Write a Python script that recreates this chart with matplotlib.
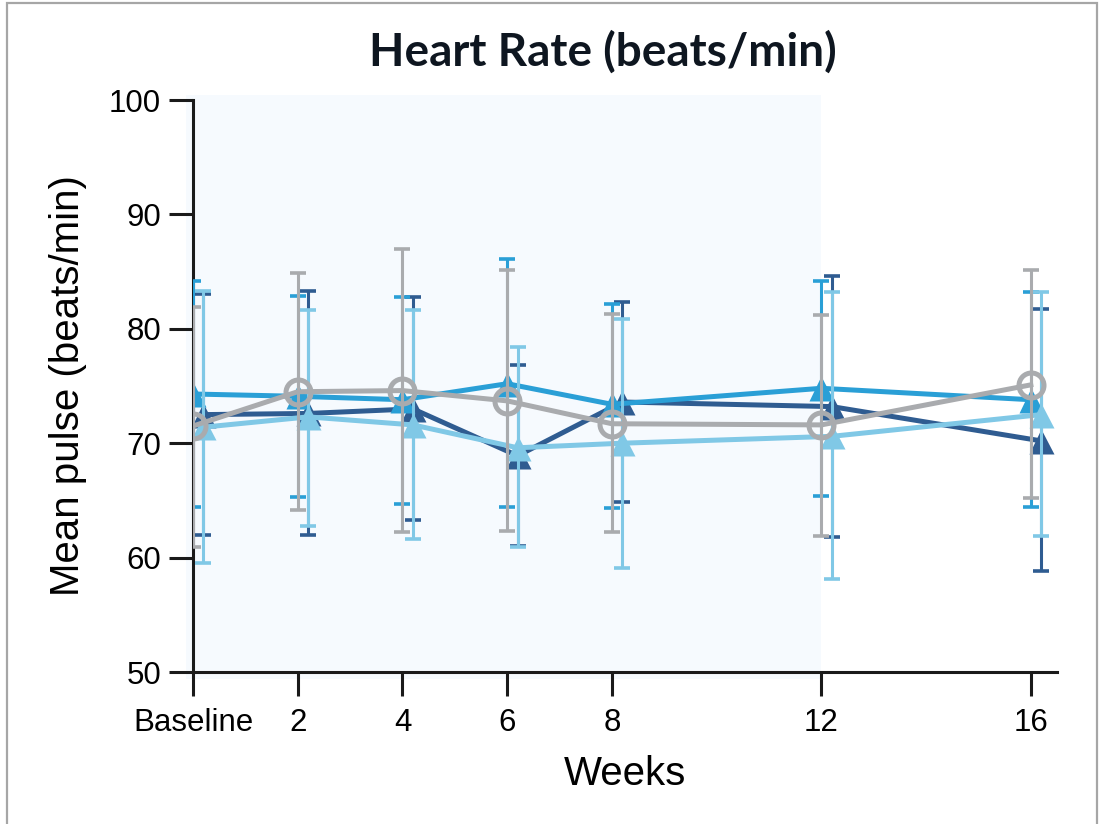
import matplotlib
matplotlib.use("Agg")
import matplotlib.pyplot as plt
from matplotlib.patches import Rectangle

weeks = [0, 2, 4, 6, 8, 12, 16]
tick_labels = ["Baseline", "2", "4", "6", "8", "12", "16"]

# mean pulse and error bar ends per group
dark_mean = [72.5, 72.6, 73.0, 68.9, 73.6, 73.2, 70.2]
dark_hi = [83.0, 83.3, 82.8, 76.8, 82.3, 84.6, 81.7]
dark_lo = [62.0, 62.0, 63.3, 61.0, 64.9, 61.8, 58.8]

mid_mean = [74.3, 74.1, 73.8, 75.2, 73.4, 74.8, 73.8]
mid_hi = [84.2, 82.9, 82.8, 86.1, 82.2, 84.2, 83.2]
mid_lo = [64.4, 65.3, 64.7, 64.4, 64.3, 65.4, 64.4]

light_mean = [71.4, 72.3, 71.6, 69.6, 70.0, 70.6, 72.5]
light_hi = [83.3, 81.6, 81.6, 78.4, 80.9, 83.2, 83.2]
light_lo = [59.5, 62.8, 61.6, 60.9, 59.1, 58.1, 61.9]

gray_mean = [71.5, 74.5, 74.6, 73.7, 71.7, 71.6, 75.1]
gray_hi = [81.9, 84.9, 87.0, 85.1, 81.3, 81.2, 85.1]
gray_lo = [60.9, 64.2, 62.2, 62.3, 62.2, 61.9, 65.2]

series = [
    # mean, hi, lo, color, marker, x shift
    (dark_mean, dark_hi, dark_lo, "#2f5c91", "^", 0.2),
    (mid_mean, mid_hi, mid_lo, "#2a9fd6", "^", 0.0),
    (light_mean, light_hi, light_lo, "#80c8e6", "^", 0.2),
    (gray_mean, gray_hi, gray_lo, "#a9abae", "o", 0.0),
]

fig = plt.figure(figsize=(10.99, 8.24), dpi=100)
ax = fig.add_axes([193 / 1099, 1 - 672 / 824, (1057 - 193) / 1099, (672 - 100) / 824])

# grey frame round the figure
fig.patches.append(Rectangle((7 / 1099, -0.01), 1090 / 1099, 1.01 - 3 / 824, transform=fig.transFigure,
                             fill=False, edgecolor="#a6a6a6", linewidth=1.6))

# treatment period shading
ax.axvspan(-0.13, 12, ymin=-0.012, ymax=1.008, color="#f6fafe", zorder=0, clip_on=False, lw=0)

z = 2
for mean, hi, lo, color, marker, dx in series:
    xs = [w + dx for w in weeks]
    err = [[m - l for m, l in zip(mean, lo)], [h - m for m, h in zip(mean, hi)]]
    ax.errorbar(xs, mean, yerr=err, fmt="none", ecolor=color, elinewidth=2.2,
                capsize=6, capthick=2.6, zorder=z)
    if marker == "o":
        ax.plot(xs, mean, color=color, lw=3.6, marker="o", ms=18, mfc="none",
                mec=color, mew=3.6, zorder=z + 1)
    else:
        ax.plot(xs, mean, color=color, lw=3.6, marker="^", ms=18, mec="none", zorder=z + 1)
    z += 2

ax.set_xlim(0, 16.5)
ax.set_ylim(50, 100)
ax.set_xticks(weeks)
ax.set_xticklabels(tick_labels)
ax.set_yticks([50, 60, 70, 80, 90, 100])

for side in ["top", "right"]:
    ax.spines[side].set_visible(False)
for side in ["left", "bottom"]:
    ax.spines[side].set_linewidth(2.2)
    ax.spines[side].set_color("#1a1a1a")
ax.tick_params(length=17, width=2.2, color="#1a1a1a", labelsize=22.5, pad=6)
ax.tick_params(axis="x", pad=9)
for lab in ax.get_xticklabels() + ax.get_yticklabels():
    lab.set_fontfamily("Liberation Sans")

ax.set_xlabel("Weeks", fontsize=29, family="Liberation Sans", labelpad=12)
ax.set_ylabel("Mean pulse (beats/min)", fontsize=29, family="Liberation Sans", labelpad=16)

fig.text(603 / 1099, 1 - 52 / 824, "Heart Rate (beats/min)", ha="center", va="center",
         fontsize=33, fontweight="bold", family="Lato", color="#0e1620")

fig.savefig("out.png", dpi=100)
